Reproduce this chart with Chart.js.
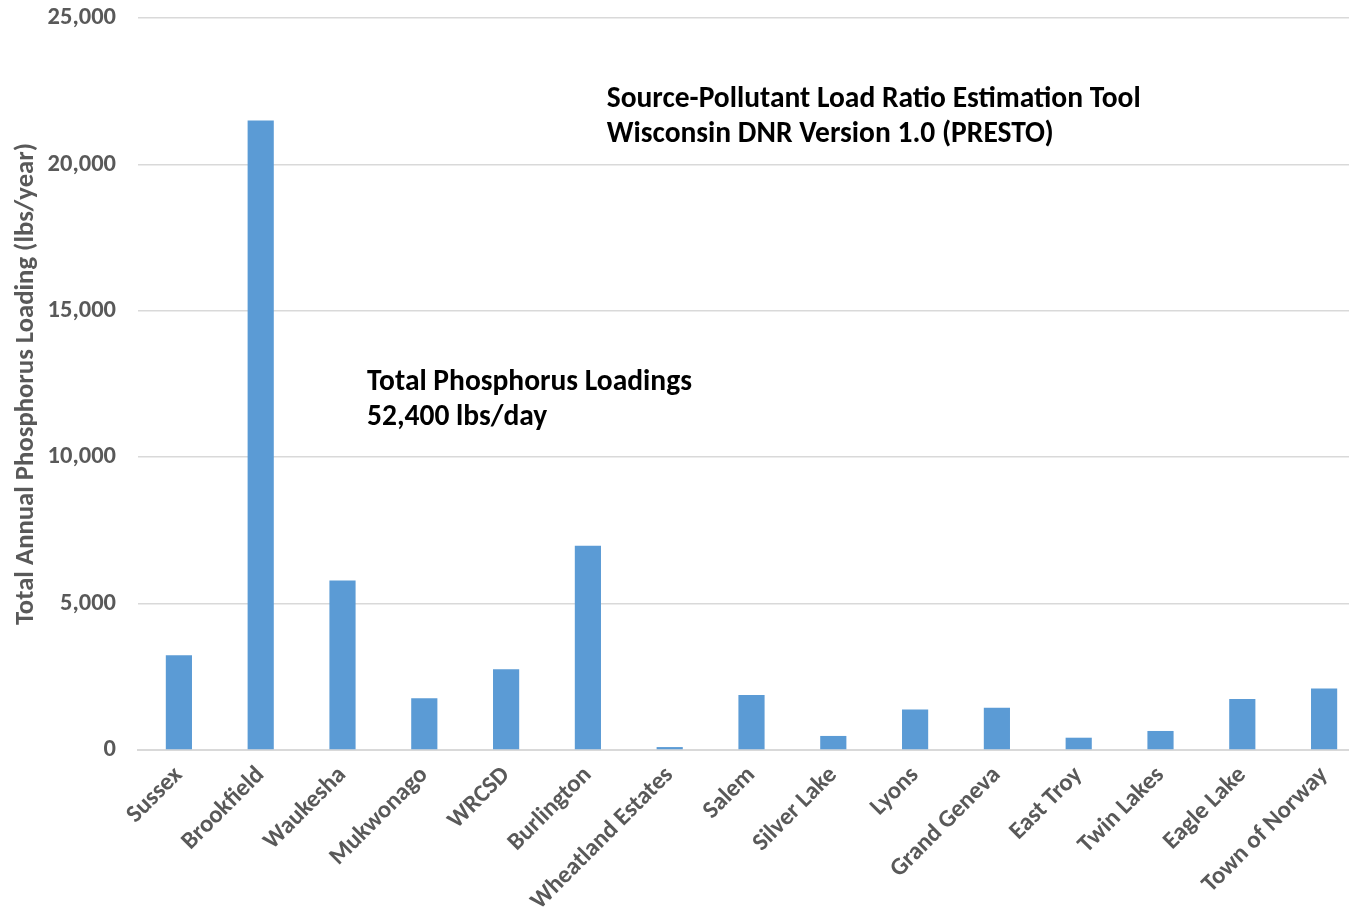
<!DOCTYPE html>
<html><head><meta charset="utf-8">
<script src="https://cdn.jsdelivr.net/npm/chart.js@4.4.1/dist/chart.umd.min.js"></script>
<style>html,body{margin:0;padding:0;background:#fff;overflow:hidden}#wrap{width:1349px;height:914px;position:relative;overflow:hidden}canvas{display:block}</style>
</head><body><div id="wrap"><canvas id="c" width="1365" height="914"></canvas></div>
<script>
const categories = ["Sussex","Brookfield","Waukesha","Mukwonago","WRCSD","Burlington","Wheatland Estates","Salem","Silver Lake","Lyons","Grand Geneva","East Troy","Twin Lakes","Eagle Lake","Town of Norway"];
const loads = [3240, 21500, 5790, 1770, 2760, 6980, 100, 1880, 480, 1380, 1440, 420, 650, 1740, 2100];
const yTicks = [0, 5000, 10000, 15000, 20000, 25000];
const annotations = [
  {value: 22200, cat: 5.23, lines: ["Source-Pollutant Load Ratio Estimation Tool", "Wisconsin DNR Version 1.0 (PRESTO)"]},
  {value: 12540, cat: 2.30, lines: ["Total Phosphorus Loadings", "52,400 lbs/day"]}
];
const FONT = "Carlito, Lato, sans-serif";
const textPlugin = {
  id: 'texts',
  afterDraw(chart) {
    const ctx = chart.ctx, xs = chart.scales.x, ys = chart.scales.y;
    ctx.save();
    ctx.fillStyle = '#000';
    ctx.font = "bold 29.5px " + FONT;
    ctx.textBaseline = 'middle';
    ctx.textAlign = 'left';
    annotations.forEach(a => {
      const step = xs.getPixelForValue(1) - xs.getPixelForValue(0);
      const x = xs.getPixelForValue(0) + a.cat * step;
      const y = ys.getPixelForValue(a.value);
      a.lines.forEach((l, i) => ctx.fillText(l, x, y + i * 35));
    });
    ctx.restore();
  }
};
new Chart(document.getElementById('c'), {
  type: 'bar',
  data: { labels: categories, datasets: [{ data: loads, backgroundColor: '#5b9bd5', borderWidth: 0, categoryPercentage: 1, barPercentage: 0.32 }] },
  options: {
    responsive: false, animation: false,
    layout: { padding: { top: 18, right: 0, left: 0, bottom: 0 } },
    plugins: { legend: { display: false }, tooltip: { enabled: false } },
    scales: {
      x: {
        grid: { display: false, drawTicks: false },
        border: { display: true, color: '#d9d9d9', width: 2 },
        ticks: { color: '#595959', font: { family: FONT, size: 24.5, weight: 'bold' }, minRotation: 45, maxRotation: 45, padding: 11, autoSkip: false },
        afterFit(s) { s.height = 164; s.paddingTop = 0; s.paddingBottom = 0; s.paddingRight = 0; }
      },
      y: {
        min: 0, max: 25000,
        afterBuildTicks(s) { s.ticks = yTicks.map(v => ({ value: v })); },
        grid: { color: '#d9d9d9', lineWidth: 1.5, drawTicks: false },
        border: { display: false },
        ticks: { color: '#595959', font: { family: FONT, size: 24.5, weight: 'bold' }, padding: 22, callback: v => v.toLocaleString('en-US') },
        title: { display: true, text: 'Total Annual Phosphorus Loading (lbs/year)', color: '#595959', font: { family: FONT, size: 26.7, weight: 'bold' }, padding: { top: 10, bottom: 2 } },
        afterFit(s) { s.width = 138; s.paddingTop = 0; s.paddingBottom = 0; }
      }
    }
  },
  plugins: [textPlugin]
});
</script></body></html>
